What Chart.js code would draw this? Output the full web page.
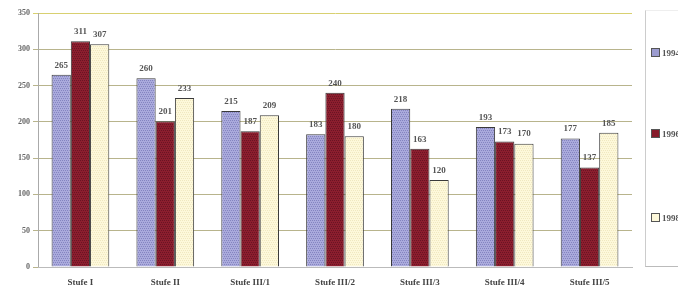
<!DOCTYPE html>
<html>
<head>
<meta charset="utf-8">
<script src="https://cdn.jsdelivr.net/npm/chart.js@4/dist/chart.umd.min.js"></script>
<style>
    body { margin: 0; background: #fff; }
    #wrap { position: relative; width: 678px; height: 290px; overflow: hidden; }
    #legend {
        position: absolute; left: 645px; top: 10px; width: 60px; height: 255px;
        border-left: 1px solid #ccc; border-bottom: 1px solid #bbb; border-top: 1px solid #eee;
        font: bold 9px "Liberation Serif", serif; color: #555;
    }
    .item { position: absolute; left: 5px; white-space: nowrap; }
    .item span { display: inline-block; width: 7px; height: 7px; border: 1px solid #555; margin-right: 2px; vertical-align: -1px; }
</style>
</head>
<body>
<div id="wrap">
    <canvas id="chart" width="678" height="290"></canvas>
    <div id="legend"></div>
</div>
<script>
// Data
const categories = ['Stufe I', 'Stufe II', 'Stufe III/1', 'Stufe III/2', 'Stufe III/3', 'Stufe III/4', 'Stufe III/5'];
const seriesNames = ['1994', '1996', '1998'];
const values1994 = [265, 260, 215, 183, 218, 193, 177];
const values1996 = [311, 201, 187, 240, 163, 173, 137];
const values1998 = [307, 233, 209, 180, 120, 170, 185];
const yTicks = [0, 50, 100, 150, 200, 250, 300, 350];

// small cross-hatch pattern like the scanned bars
function hatch(base, dot) {
    const c = document.createElement('canvas');
    c.width = 4; c.height = 4;
    const g = c.getContext('2d');
    g.fillStyle = base;
    g.fillRect(0, 0, 4, 4);
    g.fillStyle = dot;
    g.fillRect(0, 0, 1, 1); g.fillRect(2, 0, 1, 1);
    g.fillRect(1, 2, 1, 1); g.fillRect(3, 2, 1, 1);
    return g.createPattern(c, 'repeat');
}

const fills = [
    hatch('#aaaadc', '#8484c0'),
    hatch('#8c1e2e', '#6a1424'),
    hatch('#fdf8da', '#f0e8c0')
];
const swatch = ['#9c9cd0', '#861a2a', '#fdf8da'];

// Value labels above bars
const valueLabels = {
    id: 'valueLabels',
    afterDatasetsDraw(chart) {
        const ctx = chart.ctx;
        ctx.save();
        ctx.font = 'bold 9px "Liberation Serif", serif';
        ctx.fillStyle = '#555';
        ctx.textAlign = 'center';
        ctx.textBaseline = 'bottom';
        chart.data.datasets.forEach((ds, i) => {
            chart.getDatasetMeta(i).data.forEach((bar, j) => {
                ctx.fillText(ds.data[j], bar.x, bar.y - 5);
            });
        });
        ctx.restore();
    }
};

const ctx = document.getElementById('chart').getContext('2d');
new Chart(ctx, {
    type: 'bar',
    data: {
        labels: categories,
        datasets: [values1994, values1996, values1998].map((vals, i) => ({
            label: seriesNames[i],
            data: vals,
            backgroundColor: fills[i],
            borderColor: '#3a3a3a',
            borderWidth: 1,
            categoryPercentage: 0.68,
            barPercentage: 1.0
        }))
    },
    options: {
        responsive: false,
        animation: false,
        layout: { padding: { top: 13, right: 46, left: 0, bottom: 0 } },
        plugins: {
            legend: { display: false },
            tooltip: { enabled: false }
        },
        scales: {
            y: {
                min: 0,
                max: 350,
                afterBuildTicks: s => { s.ticks = yTicks.map(v => ({ value: v })); },
                afterFit: s => { s.width = 38; },
                border: { color: '#aaa' },
                grid: {
                    color: ctx => ctx.tick.value === 350 ? '#d8d070' : '#b8b48c',
                    tickLength: 5
                },
                ticks: {
                    color: '#666',
                    font: { family: '"Liberation Serif", serif', size: 8, weight: 'bold' },
                    padding: 3
                }
            },
            x: {
                afterFit: s => { s.height = 23; },
                border: { color: '#bbb' },
                grid: { display: false, tickLength: 0 },
                ticks: {
                    color: '#444',
                    font: { family: '"Liberation Serif", serif', size: 9, weight: 'bold' },
                    padding: 10
                }
            }
        }
    },
    plugins: [valueLabels]
});

// Legend (clipped at the right edge like the reference)
const legend = document.getElementById('legend');
const legendTops = [37, 118, 202];
seriesNames.forEach((name, i) => {
    const d = document.createElement('div');
    d.className = 'item';
    d.style.top = legendTops[i] + 'px';
    d.innerHTML = '<span style="background:' + swatch[i] + '"></span>' + name;
    legend.appendChild(d);
});
</script>
</body>
</html>
